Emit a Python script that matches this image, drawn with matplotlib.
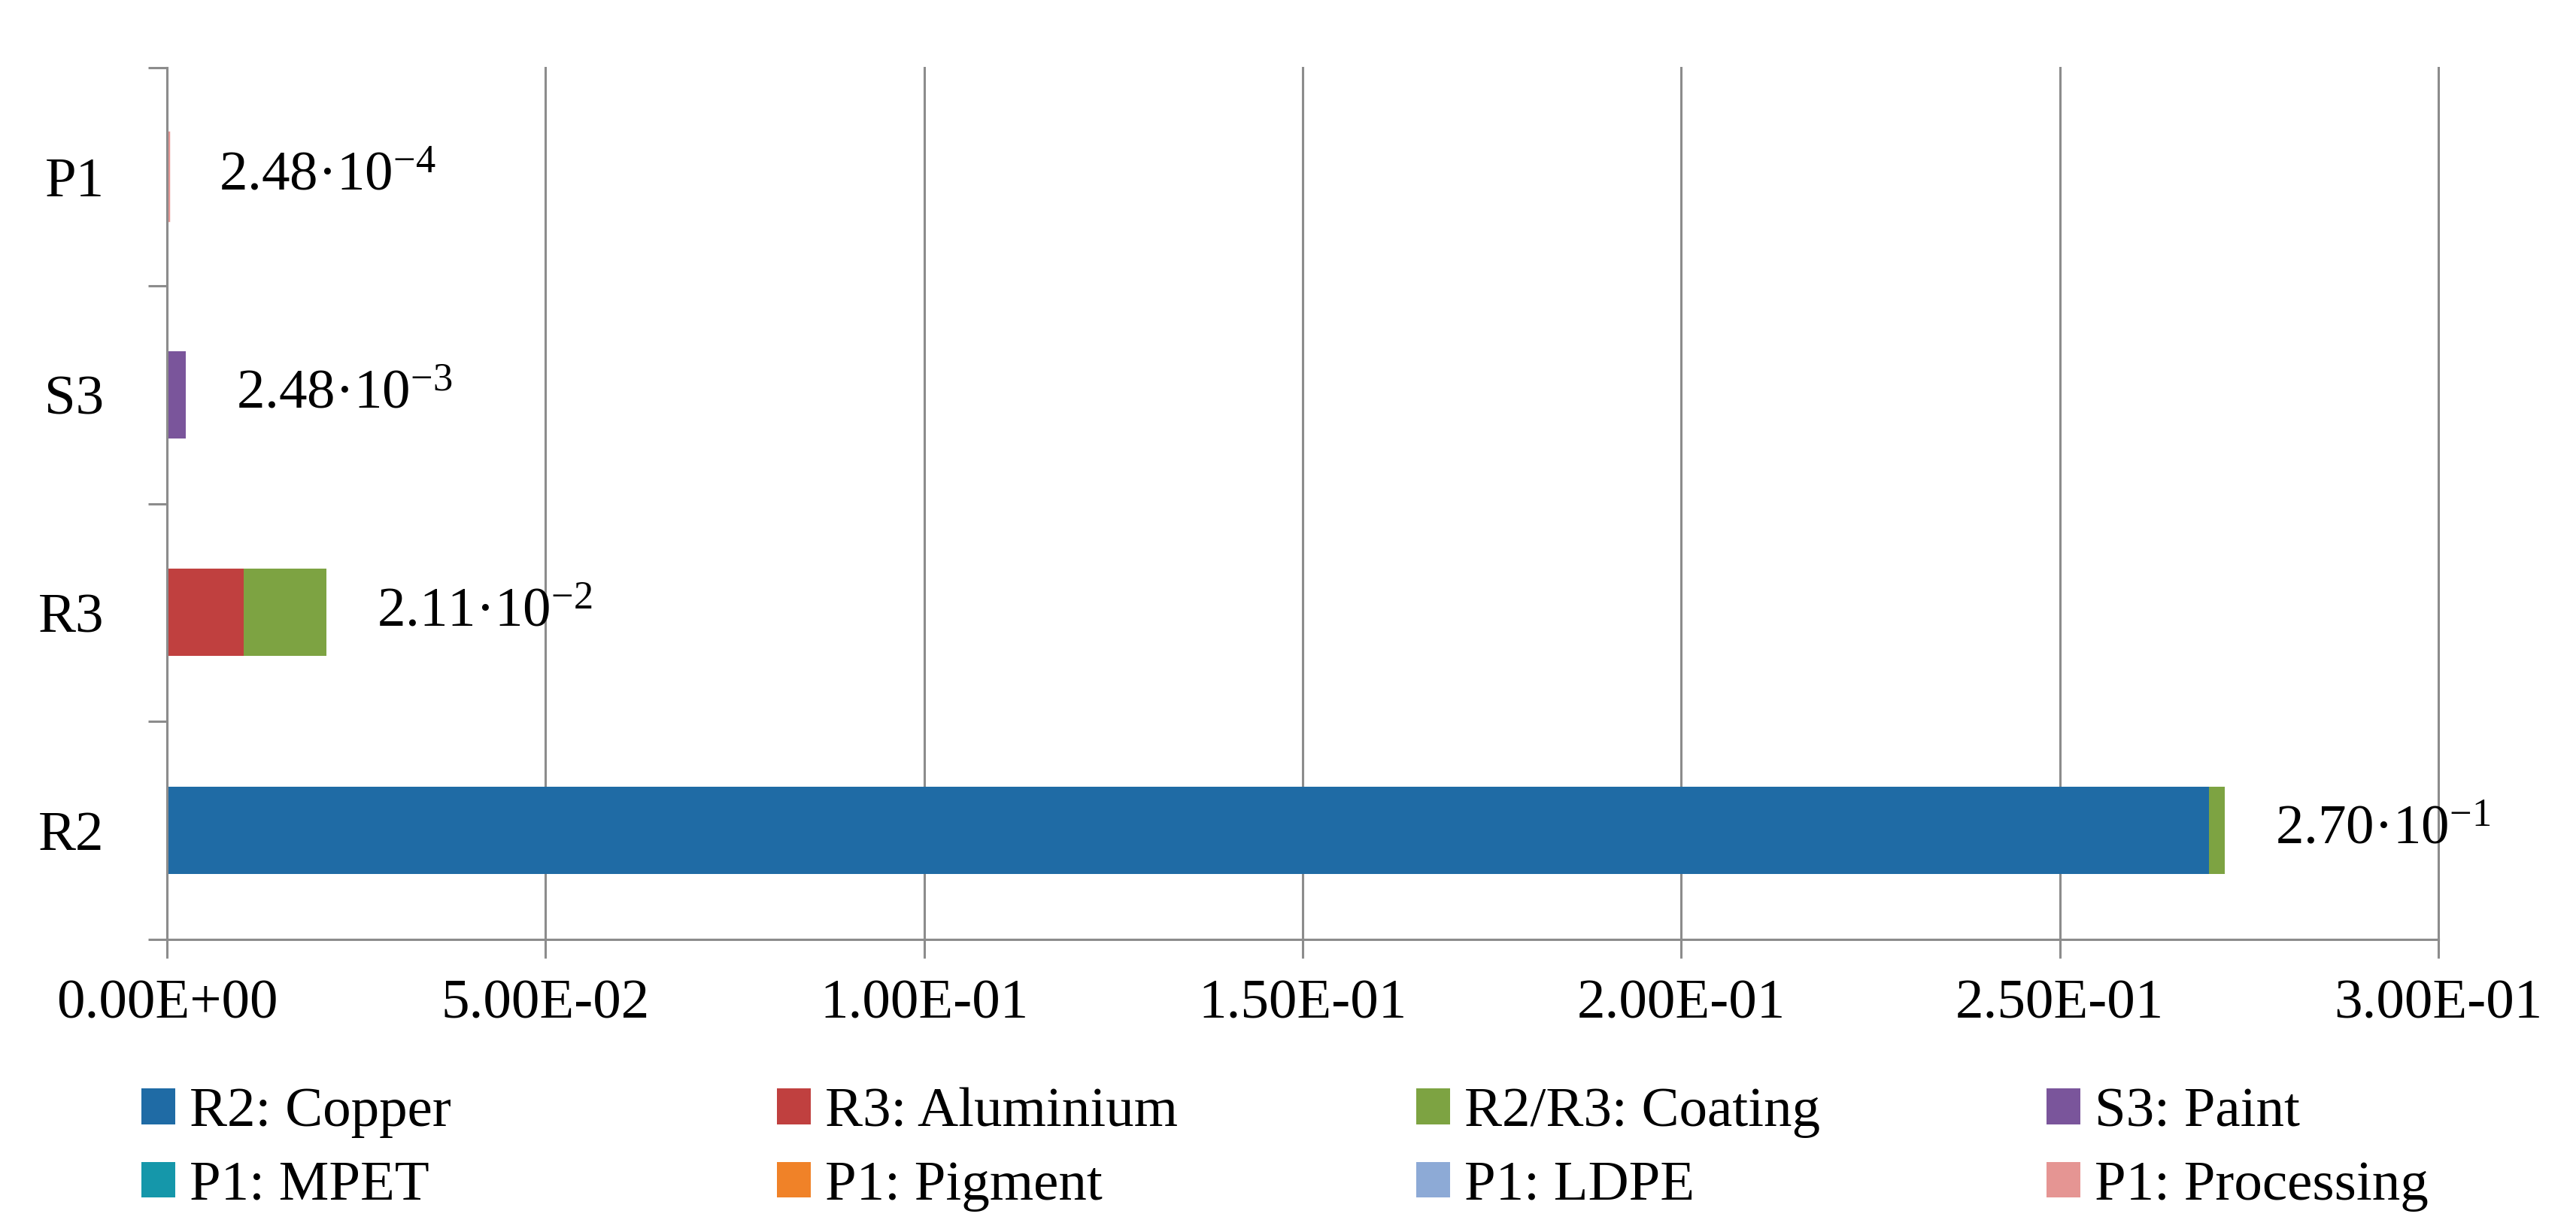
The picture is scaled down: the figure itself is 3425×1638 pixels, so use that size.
import numpy as np
import matplotlib
matplotlib.use("Agg")
from matplotlib import pyplot as plt
from matplotlib.patches import Patch

plt.rcParams['font.family'] = ['Liberation Serif', 'DejaVu Serif']
plt.rcParams['mathtext.fontset'] = 'custom'
plt.rcParams['mathtext.rm'] = 'Liberation Serif'
plt.rcParams['mathtext.it'] = 'Liberation Serif'

# categories bottom -> top
categories = ["R2", "R3", "S3", "P1"]

series_names = ["R2: Copper", "R3: Aluminium", "R2/R3: Coating", "S3: Paint",
                "P1: MPET", "P1: Pigment", "P1: LDPE", "P1: Processing"]
series_colors = ["#1F6BA5", "#C0403F", "#7DA342", "#7A559B",
                 "#1597AA", "#F08228", "#8DAAD6", "#E59593"]

copper = [0.2697, 0, 0, 0]
aluminium = [0, 0.0101, 0, 0]
coating = [0.0021, 0.0110, 0, 0]
paint = [0, 0, 0.00248, 0]
mpet = [0, 0, 0, 0.00003]
pigment = [0, 0, 0, 0.00001]
ldpe = [0, 0, 0, 0.00002]
processing = [0, 0, 0, 0.00019]

label_mant = ["2.70", "2.11", "2.48", "2.48"]
label_exp = [-1, -2, -3, -4]

x_ticks = [0, 0.05, 0.10, 0.15, 0.20, 0.25, 0.30]

series = [copper, aluminium, coating, paint, mpet, pigment, ldpe, processing]

FS = 27
grey = "#8C8C8C"

fig = plt.figure(figsize=(17.125, 8.19), dpi=200)
ax = fig.add_axes([0.0648, 0.2375, 0.8818, 0.7075])

y = np.arange(len(categories))
left = np.zeros(len(categories))
for vals, name, col in zip(series, series_names, series_colors):
    vals = np.array(vals, dtype=float)
    # tiny P1 processing slice gets an outline so it stays visible, as in the original
    lw = [1.6 if (v > 0 and name == "P1: Processing") else 0 for v in vals]
    ax.barh(y, vals, left=left, height=0.4, color=col, edgecolor=col,
            linewidth=lw, zorder=3, label=name)
    left += vals

for yi, tot, m, e in zip(y, left, label_mant, label_exp):
    ax.annotate(r"%s·10$^{%d}$" % (m, e), xy=(tot, yi), xytext=(24, 0),
                textcoords="offset points", ha="left", va="center", fontsize=FS)

ax.set_xlim(0, 0.3)
ax.set_ylim(-0.5, len(categories) - 0.5)
ax.set_xticks(x_ticks)
ax.set_xticklabels(["%.2E" % v for v in x_ticks], fontsize=FS)
ax.set_yticks(y)
ax.set_yticklabels(categories, fontsize=FS)
ax.set_yticks(np.arange(-0.5, len(categories)), minor=True)
ax.tick_params(axis="y", which="major", length=0, pad=30)
ax.tick_params(axis="y", which="minor", length=9, width=1.1, color=grey)
ax.tick_params(axis="x", length=9, width=1.1, color=grey, pad=10)

ax.grid(axis="x", color=grey, linewidth=1.1, zorder=0)
for gl in ax.get_xgridlines():
    gl.set_clip_on(False)
for s in ["top", "right"]:
    ax.spines[s].set_visible(False)
for s in ["left", "bottom"]:
    ax.spines[s].set_color(grey)
    ax.spines[s].set_linewidth(1.1)
    ax.spines[s].set_zorder(4)

# legend: 4 columns with equal pitch, filled row-wise
col_x = [0.0549, 0.3016, 0.5498, 0.7945]
for c in range(4):
    handles = [Patch(facecolor=series_colors[i], edgecolor="none") for i in (c, c + 4)]
    labels = [series_names[c], series_names[c + 4]]
    fig.legend(handles, labels, loc="center left", bbox_to_anchor=(col_x[c], 0.067),
               frameon=False, fontsize=FS, handlelength=0.6, handleheight=0.6,
               handletextpad=0.25, labelspacing=0.4, borderpad=0, borderaxespad=0)

fig.savefig("out.png", dpi=200)
